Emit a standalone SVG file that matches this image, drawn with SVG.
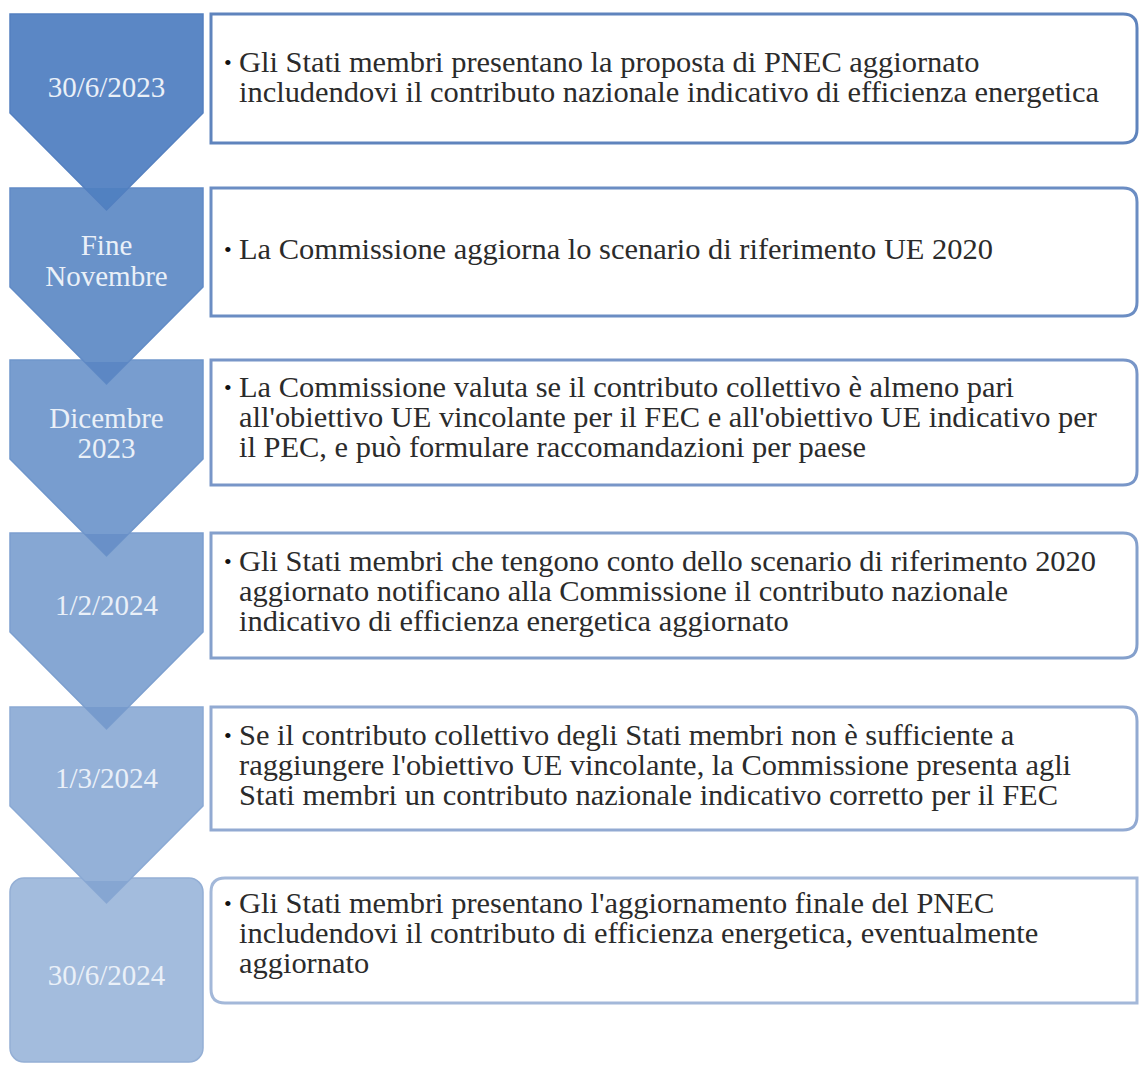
<svg xmlns="http://www.w3.org/2000/svg" width="1140" height="1066" viewBox="0 0 1140 1066">
<style>
.lbl{font-family:"Liberation Serif","Times New Roman",serif;font-size:29px;fill:#eaf0f8;text-anchor:middle}
.txt{font-family:"Liberation Serif","Times New Roman",serif;font-size:29px;fill:#2b2b2b}
.bul{font-family:"Liberation Serif","Times New Roman",serif;font-size:22px;fill:#111}
.box{fill:#fff;stroke-width:3}
</style>
<rect width="1140" height="1066" fill="#fff"/>
<g id="connectors"></g>
<g id="step6">
<rect x="10" y="878" width="193" height="184" rx="14" fill="#a3bcdd" stroke="#94afd5" stroke-width="1.5"/>
<text class="lbl" x="106.5" y="985">30/6/2024</text>
</g>
<g id="step5">
<path d="M10,707 H203 V806 L106.5,903 L10,806 Z" fill="#94b1d8" stroke="#8aa9d4" stroke-width="1.5"/>
<path d="M84.5,881 H128.5 L106.5,903 Z" fill="#86a6d2"/>
<text class="lbl" x="106.5" y="788">1/3/2024</text>
</g>
<g id="step4">
<path d="M10,533 H203 V632 L106.5,729 L10,632 Z" fill="#86a7d3" stroke="#7c9fcf" stroke-width="1.5"/>
<path d="M84.5,707 H128.5 L106.5,729 Z" fill="#779bcd"/>
<text class="lbl" x="106.5" y="615">1/2/2024</text>
</g>
<g id="step3">
<path d="M10,360 H203 V459 L106.5,556 L10,459 Z" fill="#789dcf" stroke="#6f96cb" stroke-width="1.5"/>
<path d="M84.5,534 H128.5 L106.5,556 Z" fill="#6990c8"/>
<text class="lbl" x="106.5" y="428">Dicembre</text>
<text class="lbl" x="106.5" y="458">2023</text>
</g>
<g id="step2">
<path d="M10,188 H203 V287 L106.5,384 L10,287 Z" fill="#6992c9" stroke="#618bc6" stroke-width="1.5"/>
<path d="M84.5,362 H128.5 L106.5,384 Z" fill="#5c87c4"/>
<text class="lbl" x="106.5" y="255">Fine</text>
<text class="lbl" x="106.5" y="286">Novembre</text>
</g>
<g id="step1">
<path d="M10,14 H203 V113 L106.5,210 L10,113 Z" fill="#5b87c5" stroke="#5480c0" stroke-width="1.5"/>
<path d="M84.5,188 H128.5 L106.5,210 Z" fill="#5181c1"/>
<text class="lbl" x="106.5" y="97">30/6/2023</text>
</g>
<g id="box1">
<path class="box" d="M211,14 H1123 Q1137,14 1137,28 V129 Q1137,143 1123,143 H211 Z" stroke="#5f84bd"/>
<text class="bul" x="224" y="70">•</text>
<g transform="translate(239,0) scale(1.05,1)">
<text class="txt" x="0" y="72">Gli Stati membri presentano la proposta di PNEC aggiornato</text>
<text class="txt" x="0" y="102">includendovi il contributo nazionale indicativo di efficienza energetica</text>
</g>
</g>
<g id="box2">
<path class="box" d="M211,188 H1123 Q1137,188 1137,202 V302 Q1137,316 1123,316 H211 Z" stroke="#6b8dc3"/>
<text class="bul" x="224" y="257">•</text>
<g transform="translate(239,0) scale(1.05,1)">
<text class="txt" x="0" y="259">La Commissione aggiorna lo scenario di riferimento UE 2020</text>
</g>
</g>
<g id="box3">
<path class="box" d="M211,360 H1123 Q1137,360 1137,374 V471 Q1137,485 1123,485 H211 Z" stroke="#7896c8"/>
<text class="bul" x="224" y="395">•</text>
<g transform="translate(239,0) scale(1.05,1)">
<text class="txt" x="0" y="397">La Commissione valuta se il contributo collettivo è almeno pari</text>
<text class="txt" x="0" y="427">all'obiettivo UE vincolante per il FEC e all'obiettivo UE indicativo per</text>
<text class="txt" x="0" y="457">il PEC, e può formulare raccomandazioni per paese</text>
</g>
</g>
<g id="box4">
<path class="box" d="M211,533 H1123 Q1137,533 1137,547 V644 Q1137,658 1123,658 H211 Z" stroke="#84a0cc"/>
<text class="bul" x="224" y="569">•</text>
<g transform="translate(239,0) scale(1.05,1)">
<text class="txt" x="0" y="571">Gli Stati membri che tengono conto dello scenario di riferimento 2020</text>
<text class="txt" x="0" y="601">aggiornato notificano alla Commissione il contributo nazionale</text>
<text class="txt" x="0" y="631">indicativo di efficienza energetica aggiornato</text>
</g>
</g>
<g id="box5">
<path class="box" d="M211,707 H1123 Q1137,707 1137,721 V816 Q1137,830 1123,830 H211 Z" stroke="#92aad2"/>
<text class="bul" x="224" y="743">•</text>
<g transform="translate(239,0) scale(1.05,1)">
<text class="txt" x="0" y="745">Se il contributo collettivo degli Stati membri non è sufficiente a</text>
<text class="txt" x="0" y="775">raggiungere l'obiettivo UE vincolante, la Commissione presenta agli</text>
<text class="txt" x="0" y="805">Stati membri un contributo nazionale indicativo corretto per il FEC</text>
</g>
</g>
<g id="box6">
<path class="box" d="M225,878 H1137 V1003 H225 Q211,1003 211,989 V892 Q211,878 225,878 Z" stroke="#a3b8d9"/>
<text class="bul" x="224" y="911">•</text>
<g transform="translate(239,0) scale(1.05,1)">
<text class="txt" x="0" y="913">Gli Stati membri presentano l'aggiornamento finale del PNEC</text>
<text class="txt" x="0" y="943">includendovi il contributo di efficienza energetica, eventualmente</text>
<text class="txt" x="0" y="973">aggiornato</text>
</g>
</g>
</svg>
